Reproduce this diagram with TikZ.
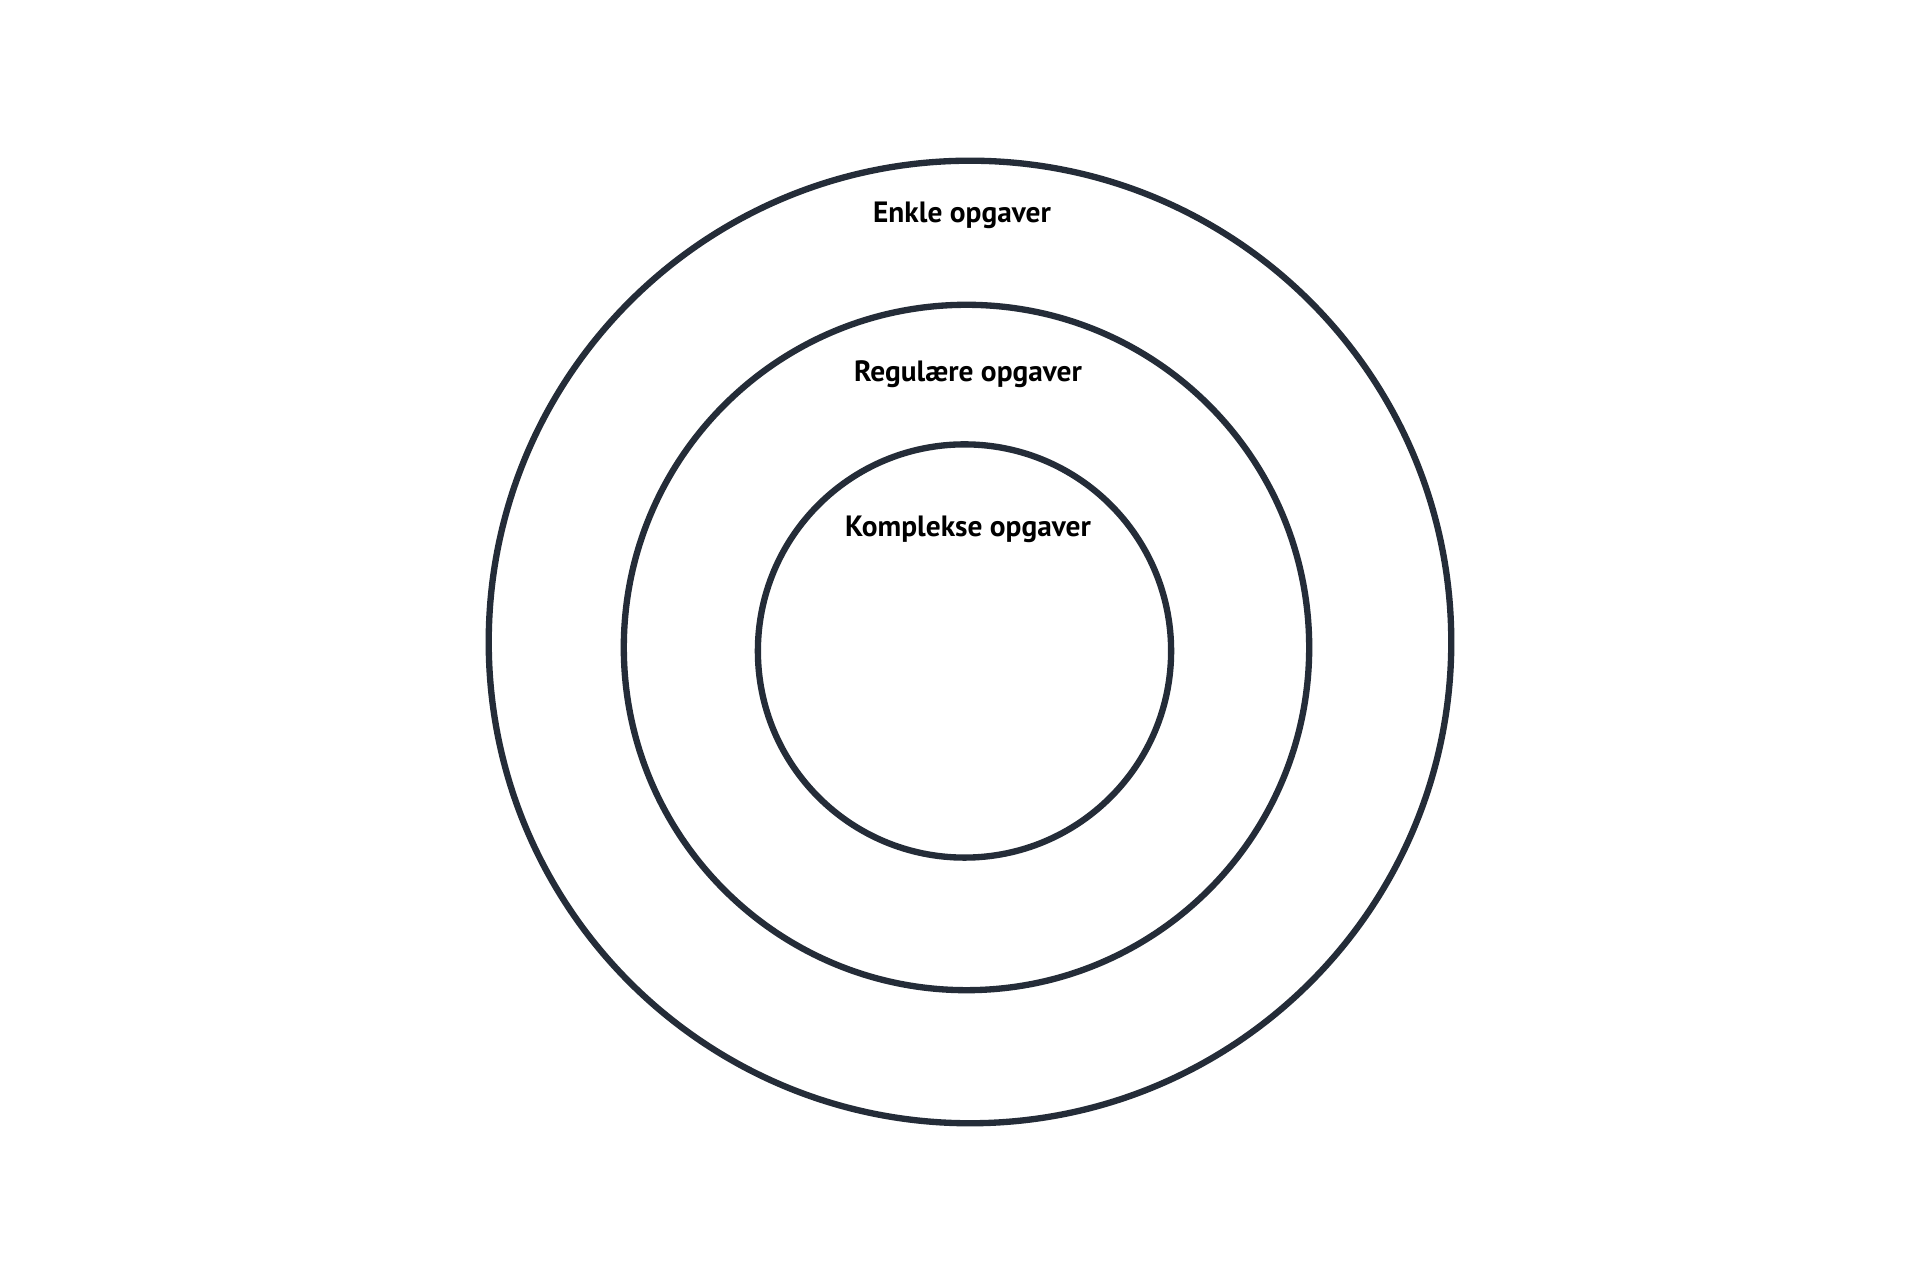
\documentclass[tikz,border=0pt]{standalone}
\usepackage{fontspec}
\setmainfont{PT Sans}
\definecolor{ringcol}{RGB}{36,44,56}
\begin{document}
\begin{tikzpicture}[x=0.01cm,y=-0.01cm,
  ring/.style={draw=ringcol,line width=1.8pt,circle,inner sep=0pt},
  lbl/.style={font=\bfseries\fontsize{8.35}{10}\selectfont,anchor=base,text=black,inner sep=0pt}]
\useasboundingbox (0,0) rectangle (1920,1280);
\fill[white] (0,0) rectangle (1920,1280);
\node[ring,minimum size=9.62cm] (outer) at (970,642) {};
\node[ring,minimum size=6.85cm] (middle) at (966.5,647.5) {};
\node[ring,minimum size=4.13cm] (inner) at (964.5,651) {};
\node[lbl] (enkle) at (962,223) {Enkle opgaver};
\node[lbl] (regul) at (968,382) {Regulære opgaver};
\node[lbl] (kompl) at (968,537) {Komplekse opgaver};
\end{tikzpicture}
\end{document}
